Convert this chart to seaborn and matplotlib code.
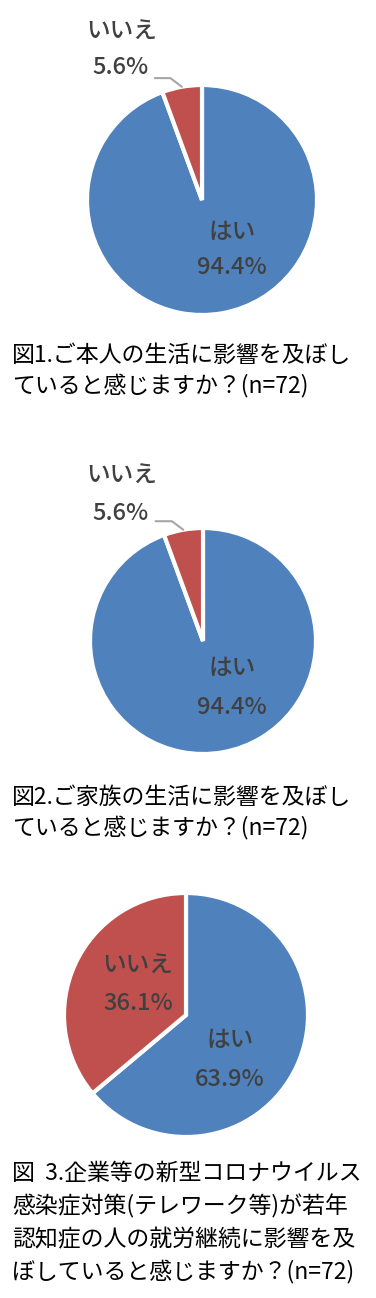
import numpy as np
import matplotlib
matplotlib.use("Agg")
import matplotlib.pyplot as plt
import seaborn as sns

sns.set_theme(style="white")
plt.rcParams['font.family'] = ['Noto Sans CJK JP', 'DejaVu Sans']

labels = ['はい', 'いいえ']
q1_values = [94.4, 5.6]
q2_values = [94.4, 5.6]
q3_values = [63.9, 36.1]
captions = [
    '図1.ご本人の生活に影響を及ぼし\nていると感じますか？(n=72)',
    '図2.ご家族の生活に影響を及ぼし\nていると感じますか？(n=72)',
    '図  3.企業等の新型コロナウイルス\n感染症対策(テレワーク等)が若年\n認知症の人の就労継続に影響を及\nぼしていると感じますか？(n=72)',
]

colors = ['#4F81BD', '#C0504D']
label_color = '#404040'
W, H = 376, 1298
fig = plt.figure(figsize=(W / 100, H / 100), dpi=100)


def pie_axes(cx, cy, r):
    ax = fig.add_axes([(cx - r) / W, 1 - (cy + r) / H, 2 * r / W, 2 * r / H])
    return ax


def fig_text(x, y, s, **kw):
    fig.text(x / W, 1 - y / H, s, **kw)


def draw_pie(ax, values):
    ax.pie(values, colors=colors, startangle=90, counterclock=False,
           radius=1.0, wedgeprops=dict(edgecolor='white', linewidth=3))
    ax.set_xlim(-1, 1)
    ax.set_ylim(-1, 1)
    ax.set_aspect('equal')
    ax.axis('off')


lab_kw = dict(color=label_color, fontsize=17, fontweight='medium', ha='center', va='center')
cap_kw = dict(color='black', fontsize=16.5, ha='left', va='top', linespacing=1.4)

# chart 1
ax1 = pie_axes(202, 200, 115)
draw_pie(ax1, q1_values)
mid = np.deg2rad(90 + q1_values[1] / 100 * 360 / 2)
px, py = np.cos(mid), np.sin(mid)
ax1.plot([-0.41, px - 0.1, px], [1.06, 1.06, py], color='#A6A6A6', lw=1.5, clip_on=False)
fig_text(122, 32, labels[1], **lab_kw)
fig_text(121, 68, f'{q1_values[1]}%', **lab_kw)
fig_text(232, 232, labels[0], **lab_kw)
fig_text(232, 268, f'{q1_values[0]}%', **lab_kw)
fig_text(12, 344, captions[0], **cap_kw)

# chart 2
ax2 = pie_axes(203, 641, 113)
draw_pie(ax2, q2_values)
mid = np.deg2rad(90 + q2_values[1] / 100 * 360 / 2)
px, py = np.cos(mid), np.sin(mid)
ax2.plot([-0.42, px - 0.1, px], [1.06, 1.06, py], color='#A6A6A6', lw=1.5, clip_on=False)
fig_text(122, 476, labels[1], **lab_kw)
fig_text(121, 514, f'{q2_values[1]}%', **lab_kw)
fig_text(232, 668, labels[0], **lab_kw)
fig_text(232, 707, f'{q2_values[0]}%', **lab_kw)
fig_text(12, 786, captions[1], **cap_kw)

# chart 3
ax3 = pie_axes(186, 1015, 122)
draw_pie(ax3, q3_values)
fig_text(138, 966, labels[1], **lab_kw)
fig_text(138, 1003, f'{q3_values[1]}%', **lab_kw)
fig_text(230, 1040, labels[0], **lab_kw)
fig_text(230, 1079, f'{q3_values[0]}%', **lab_kw)
fig_text(12, 1162, captions[2], **dict(cap_kw, linespacing=1.5))

fig.savefig('out.png', dpi=100, facecolor='white')
